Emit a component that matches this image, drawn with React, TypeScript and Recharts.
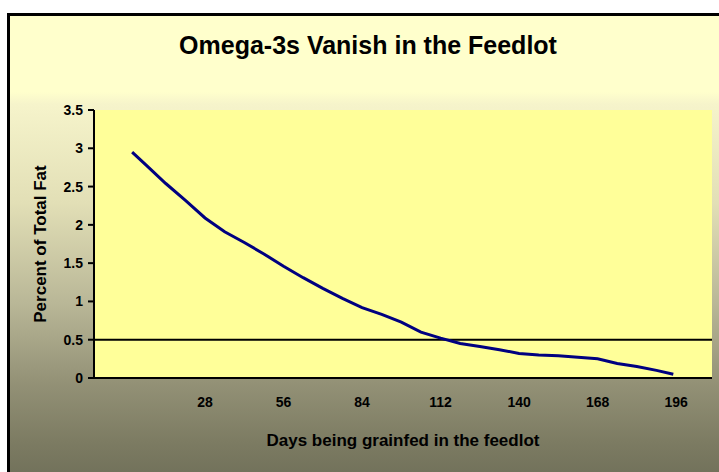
import { LineChart, Line, XAxis, YAxis, CartesianGrid, ReferenceLine } from 'recharts';

// days on feed
const days = [2, 7, 14, 21, 28, 35, 42, 49, 56, 63, 70, 77, 84, 91, 98, 105, 112, 119, 126, 133, 140, 147, 154, 161, 168, 175, 182, 189, 195];
// omega-3 as percent of total fat
const omega3 = [2.95, 2.78, 2.54, 2.32, 2.09, 1.91, 1.77, 1.62, 1.46, 1.31, 1.17, 1.04, 0.92, 0.83, 0.73, 0.6, 0.52, 0.45, 0.41, 0.37, 0.32, 0.3, 0.29, 0.27, 0.25, 0.19, 0.15, 0.1, 0.05];

const xTicks = [28, 56, 84, 112, 140, 168, 196];
const yTicks = [0, 0.5, 1, 1.5, 2, 2.5, 3, 3.5];
const yTickLabels = ['0', '0.5', '1', '1.5', '2', '2.5', '3', '3.5'];

const data = days.map((d, i) => ({ day: d, value: omega3[i] }));

const font = '"Liberation Sans", Arial, sans-serif';
const tickStyle = { fill: '#000', fontSize: 14, fontWeight: 'bold', fontFamily: font };

const App = () => {
  return (
    <div style={{ position: 'absolute', left: 0, top: 0, width: 719, height: 472, overflow: 'hidden', background: '#fff', fontFamily: font }}>
      {/* chart frame with the Excel style gradient */}
      <div
        style={{
          position: 'absolute',
          left: 7,
          top: 13,
          width: 720,
          height: 470,
          border: '3px solid #000',
          background:
            'linear-gradient(to bottom, #FFFFCC 0px, #FFFFCC 76px, #F6F4CB 88px, #E2DFB6 187px, #B9B797 287px, #939176 367px, #7C7B62 427px, #6E6E58 470px)',
        }}
      />
      <div
        style={{
          position: 'absolute',
          left: 0,
          top: 31,
          width: 736,
          textAlign: 'center',
          fontSize: 25,
          fontWeight: 'bold',
          color: '#000',
        }}
      >
        Omega-3s Vanish in the Feedlot
      </div>
      <div style={{ position: 'absolute', left: 0, top: 0, fontSize: 14, fontWeight: 'bold' }}>
        <LineChart width={719} height={472} data={data} margin={{ top: 110, right: 7, bottom: 26, left: 0 }}>
          <CartesianGrid horizontal={false} vertical={false} fill="#FFFF99" />
          <XAxis
            dataKey="day"
            type="number"
            domain={[-11.6, 208.8]}
            ticks={xTicks}
            height={68}
            tickLine={false}
            tickSize={0}
            tickMargin={19}
            fontSize={14}
            axisLine={{ stroke: '#000', strokeWidth: 2 }}
            tick={{ ...tickStyle, style: { fontSize: 14, fontWeight: 'bold' } }}
            label={{ value: 'Days being grainfed in the feedlot', position: 'insideBottom', offset: 0, fill: '#000', fontSize: 17, fontWeight: 'bold', fontFamily: font }}
          />
          <YAxis
            type="number"
            domain={[0, 3.5]}
            ticks={yTicks}
            tickFormatter={(v: number) => yTickLabels[yTicks.indexOf(v)] ?? String(v)}
            width={94}
            tickSize={6}
            tickMargin={5}
            fontSize={14}
            tickLine={{ stroke: '#000', strokeWidth: 2 }}
            axisLine={{ stroke: '#000', strokeWidth: 2 }}
            tick={{ ...tickStyle, style: { fontSize: 14, fontWeight: 'bold' } }}
            label={{ value: 'Percent of Total Fat', angle: -90, position: 'insideLeft', offset: 40, fill: '#000', fontSize: 17, fontWeight: 'bold', fontFamily: font, style: { textAnchor: 'middle' } }}
          />
          <ReferenceLine y={0.5} stroke="#000" strokeWidth={2} />
          <Line
            type="linear"
            dataKey="value"
            stroke="#000080"
            strokeWidth={3}
            dot={false}
            isAnimationActive={false}
          />
        </LineChart>
      </div>
    </div>
  );
};

export default App;
